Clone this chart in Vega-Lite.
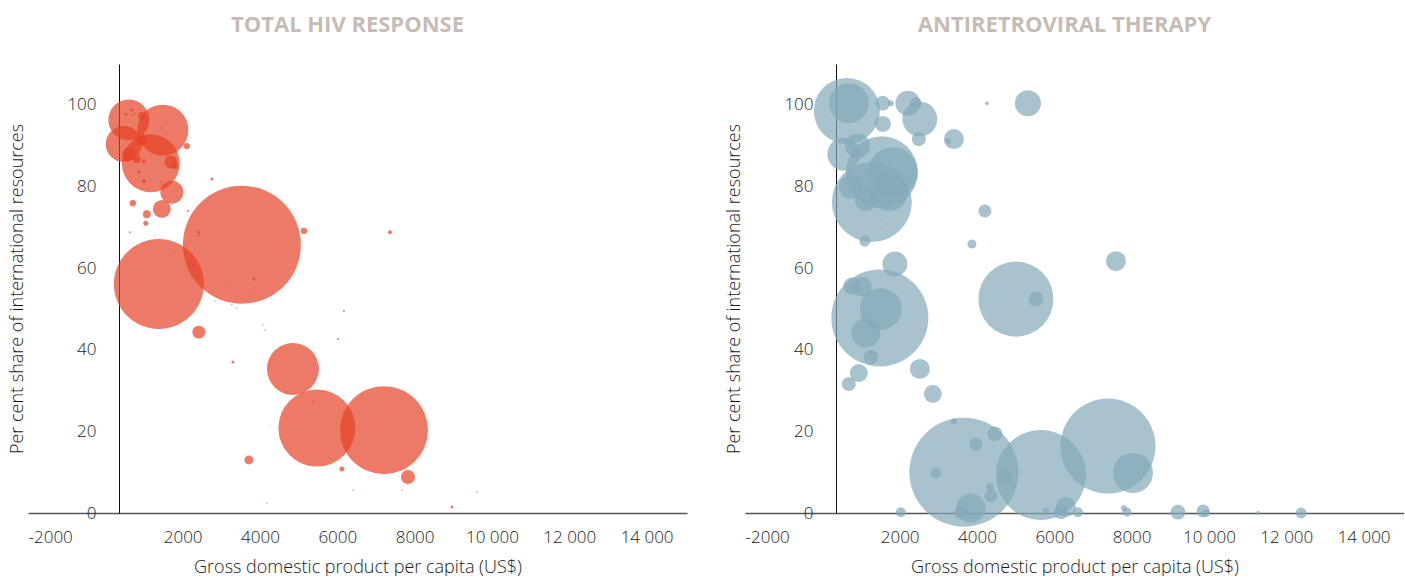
{
  "$schema": "https://vega.github.io/schema/vega-lite/v6.json",
  "padding": {"left": 8, "top": 14, "right": 0, "bottom": 0},
  "background": "white",
  "bounds": "flush",
  "spacing": 58,
  "config": {
    "view": {"stroke": null},
    "font": "Open Sans",
    "title": {"font": "Open Sans", "fontSize": 22, "fontWeight": "bold", "color": "#c6bcb5", "anchor": "middle", "offset": 27, "dx": -10},
    "axis": {"grid": false, "ticks": false, "tickSize": 0, "labelFont": "Open Sans", "labelFontSize": 17, "labelFontWeight": 300, "labelColor": "#1a1a1a", "titleFont": "Open Sans", "titleFontSize": 18, "titleFontWeight": 300, "titleColor": "#1a1a1a"}
  },
  "datasets": {
    "total": [
      {"gdp": 609, "share": 96.3, "spend": 168},
      {"gdp": 1488, "share": 93.8, "spend": 260},
      {"gdp": 478, "share": 90.4, "spend": 130},
      {"gdp": 1177, "share": 85.7, "spend": 336},
      {"gdp": 1721, "share": 78.6, "spend": 53},
      {"gdp": 1462, "share": 74.5, "spend": 32},
      {"gdp": 3532, "share": 65.7, "spend": 1392},
      {"gdp": 1384, "share": 56.1, "spend": 810},
      {"gdp": 4852, "share": 35.3, "spend": 270},
      {"gdp": 5473, "share": 20.8, "spend": 593},
      {"gdp": 7207, "share": 20.3, "spend": 774},
      {"gdp": 1695, "share": 86.0, "spend": 17},
      {"gdp": 944, "share": 97.3, "spend": 6},
      {"gdp": 608, "share": 87.9, "spend": 17},
      {"gdp": 815, "share": 86.7, "spend": 6},
      {"gdp": 944, "share": 91.4, "spend": 12},
      {"gdp": 1798, "share": 85.0, "spend": 4},
      {"gdp": 2109, "share": 89.9, "spend": 4},
      {"gdp": 711, "share": 75.9, "spend": 4},
      {"gdp": 1074, "share": 73.2, "spend": 6},
      {"gdp": 1048, "share": 71.0, "spend": 2.5},
      {"gdp": 996, "share": 86.2, "spend": 1.6},
      {"gdp": 2756, "share": 81.8, "spend": 0.9},
      {"gdp": 5137, "share": 69.1, "spend": 4},
      {"gdp": 2419, "share": 44.3, "spend": 17},
      {"gdp": 3713, "share": 13.0, "spend": 8},
      {"gdp": 7828, "share": 8.8, "spend": 20},
      {"gdp": 6120, "share": 10.8, "spend": 2.5},
      {"gdp": 7362, "share": 68.8, "spend": 1.6},
      {"gdp": 3299, "share": 37.0, "spend": 0.9},
      {"gdp": 3843, "share": 57.3, "spend": 0.9},
      {"gdp": 8967, "share": 1.5, "spend": 0.9},
      {"gdp": 5370, "share": 27.2, "spend": 0.4},
      {"gdp": 530, "share": 97.7, "spend": 0.9},
      {"gdp": 685, "share": 98.7, "spend": 0.9},
      {"gdp": 711, "share": 97.5, "spend": 0.4},
      {"gdp": 789, "share": 98.0, "spend": 0.2},
      {"gdp": 1462, "share": 94.3, "spend": 0.4},
      {"gdp": 1488, "share": 91.6, "spend": 0.4},
      {"gdp": 1177, "share": 87.7, "spend": 0.4},
      {"gdp": 867, "share": 83.5, "spend": 0.9},
      {"gdp": 996, "share": 81.3, "spend": 1.6},
      {"gdp": 1462, "share": 81.1, "spend": 0.4},
      {"gdp": 2135, "share": 74.0, "spend": 0.4},
      {"gdp": 2419, "share": 68.8, "spend": 0.9},
      {"gdp": 2393, "share": 67.9, "spend": 0.4},
      {"gdp": 634, "share": 68.8, "spend": 0.4},
      {"gdp": 1281, "share": 67.9, "spend": 0.1},
      {"gdp": 1669, "share": 63.2, "spend": 0.2},
      {"gdp": 3170, "share": 55.6, "spend": 0.2},
      {"gdp": 3273, "share": 51.0, "spend": 0.2},
      {"gdp": 3403, "share": 50.2, "spend": 0.2},
      {"gdp": 2833, "share": 51.9, "spend": 0.2},
      {"gdp": 3739, "share": 53.6, "spend": 0.2},
      {"gdp": 4076, "share": 46.1, "spend": 0.2},
      {"gdp": 4127, "share": 44.8, "spend": 0.2},
      {"gdp": 6017, "share": 42.6, "spend": 0.4},
      {"gdp": 6172, "share": 49.5, "spend": 0.4},
      {"gdp": 4231, "share": 21.3, "spend": 0.1},
      {"gdp": 7621, "share": 25.7, "spend": 0.2},
      {"gdp": 6405, "share": 5.6, "spend": 0.2},
      {"gdp": 7673, "share": 5.6, "spend": 0.2},
      {"gdp": 9614, "share": 5.1, "spend": 0.2},
      {"gdp": 4179, "share": 2.4, "spend": 0.2}
    ],
    "art": [
      {"gdp": 634, "share": 98.5, "spend": 436},
      {"gdp": 685, "share": 100.4, "spend": 160},
      {"gdp": 1565, "share": 100.4, "spend": 22},
      {"gdp": 1772, "share": 100.4, "spend": 3.6},
      {"gdp": 2212, "share": 100.4, "spend": 62},
      {"gdp": 2523, "share": 96.5, "spend": 122},
      {"gdp": 2419, "share": 100.4, "spend": 14},
      {"gdp": 1565, "share": 95.3, "spend": 26},
      {"gdp": 2497, "share": 91.6, "spend": 20},
      {"gdp": 3403, "share": 91.6, "spend": 40},
      {"gdp": 3248, "share": 91.1, "spend": 3.6},
      {"gdp": 4257, "share": 100.4, "spend": 1.6},
      {"gdp": 5318, "share": 100.4, "spend": 68},
      {"gdp": 556, "share": 87.9, "spend": 109},
      {"gdp": 918, "share": 89.9, "spend": 62},
      {"gdp": 1539, "share": 83.5, "spend": 518},
      {"gdp": 1824, "share": 83.5, "spend": 250},
      {"gdp": 1281, "share": 76.2, "spend": 640},
      {"gdp": 737, "share": 79.9, "spend": 58},
      {"gdp": 1125, "share": 76.7, "spend": 48},
      {"gdp": 1721, "share": 78.6, "spend": 144},
      {"gdp": 4205, "share": 74.0, "spend": 17},
      {"gdp": 3869, "share": 65.9, "spend": 8},
      {"gdp": 1100, "share": 66.6, "spend": 12},
      {"gdp": 1876, "share": 61.0, "spend": 62},
      {"gdp": 1695, "share": 70.8, "spend": 0.4},
      {"gdp": 1488, "share": 47.8, "spend": 941},
      {"gdp": 1514, "share": 50.0, "spend": 176},
      {"gdp": 1022, "share": 55.4, "spend": 40},
      {"gdp": 763, "share": 55.6, "spend": 29},
      {"gdp": 1125, "share": 44.1, "spend": 84},
      {"gdp": 1255, "share": 38.2, "spend": 22},
      {"gdp": 944, "share": 34.3, "spend": 32},
      {"gdp": 685, "share": 31.6, "spend": 20},
      {"gdp": 2523, "share": 35.3, "spend": 40},
      {"gdp": 2859, "share": 29.2, "spend": 32},
      {"gdp": 5007, "share": 52.4, "spend": 563},
      {"gdp": 5525, "share": 52.4, "spend": 22},
      {"gdp": 3662, "share": 10.0, "spend": 1188},
      {"gdp": 5654, "share": 9.3, "spend": 810},
      {"gdp": 7388, "share": 16.4, "spend": 903},
      {"gdp": 8035, "share": 9.8, "spend": 160},
      {"gdp": 3403, "share": 22.5, "spend": 3.6},
      {"gdp": 3972, "share": 16.9, "spend": 17},
      {"gdp": 4464, "share": 19.4, "spend": 22},
      {"gdp": 2937, "share": 9.8, "spend": 12},
      {"gdp": 4723, "share": 8.8, "spend": 20},
      {"gdp": 4335, "share": 6.4, "spend": 6},
      {"gdp": 4360, "share": 4.2, "spend": 17},
      {"gdp": 3843, "share": 1.2, "spend": 84},
      {"gdp": 2031, "share": 0.2, "spend": 10},
      {"gdp": 3584, "share": 0.2, "spend": 17},
      {"gdp": 6301, "share": 1.5, "spend": 40},
      {"gdp": 6172, "share": 0.2, "spend": 20},
      {"gdp": 6612, "share": 0.2, "spend": 10},
      {"gdp": 5784, "share": 0.7, "spend": 3.6},
      {"gdp": 7802, "share": 1.2, "spend": 3.6},
      {"gdp": 7880, "share": 0.2, "spend": 8},
      {"gdp": 9200, "share": 0.2, "spend": 22},
      {"gdp": 9847, "share": 0.5, "spend": 17},
      {"gdp": 9925, "share": 0.0, "spend": 6},
      {"gdp": 11271, "share": 0.0, "spend": 1.6},
      {"gdp": 12383, "share": 0.0, "spend": 12},
      {"gdp": 7595, "share": 61.7, "spend": 40}
    ]
  },
  "hconcat": [
    {
      "title": "TOTAL HIV RESPONSE",
      "width": 659,
      "height": 449,
      "data": {"name": "total"},
      "mark": {"type": "circle", "opacity": 0.7, "color": "#e64227", "clip": false},
      "encoding": {
        "x": {"field": "gdp", "type": "quantitative", "scale": {"domain": [-2000, 15045], "nice": false, "zero": false},
          "axis": {"title": "Gross domestic product per capita (US$)", "values": [-2000, 2000, 4000, 6000, 8000, 10000, 12000, 14000],
            "labelExpr": "datum.value >= 10000 ? replace(format(datum.value, ','), ',', ' ') : toString(datum.value)",
            "domainColor": "#555555", "domainWidth": 1.5, "labelPadding": 16, "titlePadding": 13}},
        "y": {"field": "share", "type": "quantitative", "scale": {"domain": [0, 110], "nice": false},
          "axis": {"title": "Per cent share of international resources", "values": [0, 20, 40, 60, 80, 100], "offset": -91, "labelPadding": 23, "titlePadding": 40, "domainColor": "#111111", "domainWidth": 1}},
        "size": {"field": "spend", "type": "quantitative", "scale": {"domain": [0, 1500], "range": [0, 15000]}, "legend": null},
        "order": {"field": "spend", "sort": "descending"}
      }
    },
    {
      "title": "ANTIRETROVIRAL THERAPY",
      "width": 659,
      "height": 449,
      "data": {"name": "art"},
      "mark": {"type": "circle", "opacity": 0.7, "color": "#84a9b9", "clip": false},
      "encoding": {
        "x": {"field": "gdp", "type": "quantitative", "scale": {"domain": [-2000, 15045], "nice": false, "zero": false},
          "axis": {"title": "Gross domestic product per capita (US$)", "values": [-2000, 2000, 4000, 6000, 8000, 10000, 12000, 14000],
            "labelExpr": "datum.value >= 10000 ? replace(format(datum.value, ','), ',', ' ') : toString(datum.value)",
            "domainColor": "#555555", "domainWidth": 1.5, "labelPadding": 16, "titlePadding": 13}},
        "y": {"field": "share", "type": "quantitative", "scale": {"domain": [0, 110], "nice": false},
          "axis": {"title": "Per cent share of international resources", "values": [0, 20, 40, 60, 80, 100], "offset": -91, "labelPadding": 23, "titlePadding": 40, "domainColor": "#111111", "domainWidth": 1}},
        "size": {"field": "spend", "type": "quantitative", "scale": {"domain": [0, 1500], "range": [0, 15000]}, "legend": null},
        "order": {"field": "spend", "sort": "descending"}
      }
    }
  ]
}
